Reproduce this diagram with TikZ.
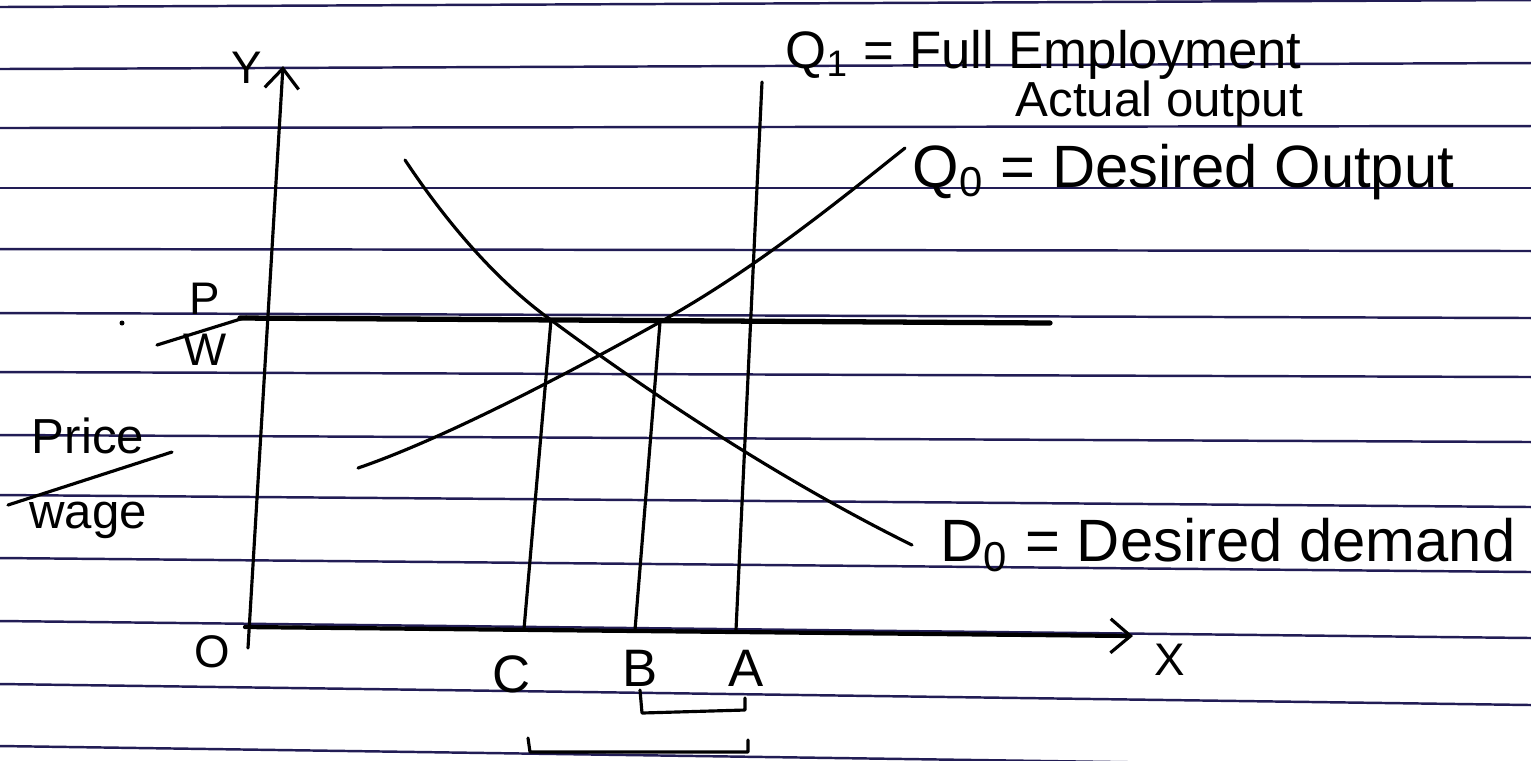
\documentclass[tikz,border=0pt]{standalone}
\usepackage{fontspec}
\setmainfont{Liberation Sans}
\usetikzlibrary{arrows.meta}
\definecolor{ruleblue}{HTML}{221D55}
\definecolor{paper}{HTML}{FFFFFF}
\begin{document}
\begin{tikzpicture}[x=0.1mm,y=-0.1mm,
  ruled/.style={draw=ruleblue, line width=0.7pt},
  ink/.style={draw=black, line width=0.9pt, line cap=round, line join=round},
  thickink/.style={draw=black, line width=1.5pt, line cap=round},
  caret/.style={-{Straight Barb[length=2mm,width=3.4mm,line width=0.9pt]}},
  lbl/.style={font=\fontsize{17}{20}\selectfont, inner sep=0pt, anchor=west},
  small/.style={font=\fontsize{13}{15}\selectfont, inner sep=0pt},
  mid/.style={font=\fontsize{15}{18}\selectfont, inner sep=0pt},
]
\useasboundingbox (0,0) rectangle (1531,760);
\fill[paper] (0,0) rectangle (1531,760);

% ruled lines of the paper
\foreach \yl/\yr in {7/0, 69/63, 128/126, 188/188, 249/251, 313/318, 372/377, 435/442, 495/507, 558/572, 621/638, 684/705, 746/768}
  \draw[ruled] (0,\yl) -- (1531,\yr);

% coordinates
\coordinate (yb) at (248,648);
\coordinate (yt) at (283,66);
\coordinate (xl) at (245,627);
\coordinate (xr) at (1133,636);
\coordinate (pwl) at (240,318);
\coordinate (pwr) at (1050,323);
\coordinate (Ab) at (736,630);
\coordinate (At) at (762,82);
\coordinate (Cb) at (524,629);
\coordinate (Ct) at (551,320);
\coordinate (Bb) at (635,630);
\coordinate (Bt) at (660,322);
\coordinate (Ss) at (358,468);
\coordinate (Se) at (905,148);
\coordinate (Ds) at (405,160);
\coordinate (De) at (912,545);

% axes
\draw[ink, caret] (yb) -- (yt);
\draw[thickink, line width=1.2pt, caret] (xl) -- (xr);
\draw[thickink] (pwl) -- (pwr);

% verticals
\draw[ink] (Ab) -- (At);
\draw[ink] (Cb) -- (Ct);
\draw[ink] (Bb) -- (Bt);

% supply Q0
\draw[ink] (Ss) .. controls (440,440) and (560,378) .. (Bt)
  .. controls (750,272) and (830,208) .. (Se);
% demand D0
\draw[ink] (Ds) .. controls (455,235) and (505,287) .. (Ct)
  .. controls (620,371) and (760,470) .. (De);

% labels
\node[small] (ylab) at (247,68) {Y};
\node[small] (xlab) at (1170,660) {X};
\node[small] (olab) at (212,652) {O};
\node[mid] (clab) at (512,674) {C};
\node[mid] (blab) at (640,668) {B};
\node[mid] (alab) at (746,668) {A};

\node[lbl, font=\fontsize{15}{18}\selectfont] (q1) at (785,55) {Q\textsubscript{1} = Full Employment};
\node[lbl, font=\fontsize{14}{17}\selectfont] (act) at (1015,104) {Actual output};
\node[lbl] (q0) at (912,172) {Q\textsubscript{0} = Desired Output};
\node[lbl] (d0) at (940,545) {D\textsubscript{0} = Desired demand};

% P/W fraction
\node[small] (plab) at (205,299) {P};
\node[small] (wlab) at (205,350) {W};
\coordinate (pwa) at (157,345);
\coordinate (pwb) at (247,317);
\draw[ink] (pwa) -- (pwb);
\fill (122,323) circle (0.25mm);

% Price / wage
\node[mid, font=\fontsize{14}{16}\selectfont] (price) at (88,436) {Price};
\node[mid, font=\fontsize{14}{16}\selectfont] (wage) at (88,520) {wage};
\coordinate (pra) at (8,505);
\coordinate (prb) at (172,452);
\draw[ink] (pra) -- (prb);

% brackets
\coordinate (b1) at (640,690);
\coordinate (b2) at (642,713);
\coordinate (b3) at (745,710);
\coordinate (b4) at (745,698);
\draw[ink] (b1) -- (b2) -- (b3) -- (b4);
\coordinate (c1) at (528,738);
\coordinate (c2) at (530,752);
\coordinate (c3) at (748,752);
\coordinate (c4) at (748,740);
\draw[ink] (c1) -- (c2) -- (c3) -- (c4);
\end{tikzpicture}
\end{document}
